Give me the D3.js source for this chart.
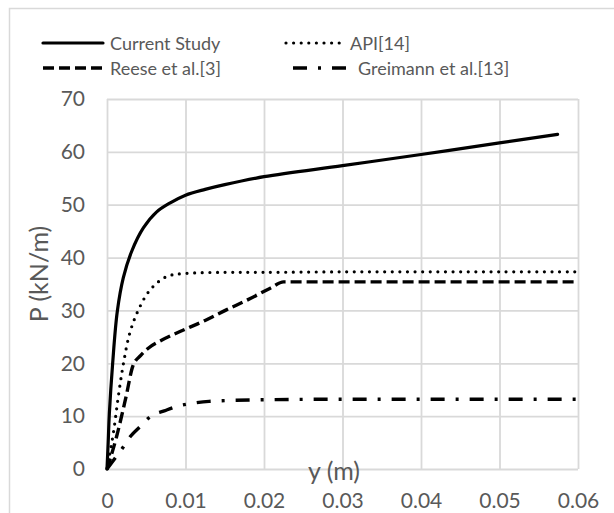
<!DOCTYPE html>
<html>
<head>
<meta charset="utf-8">
<script src="https://cdn.jsdelivr.net/npm/d3@7"></script>
<style>
  html, body { margin: 0; padding: 0; background: #fff; }
  svg { display: block; }
  text { font-family: Lato, "Open Sans", sans-serif; fill: #595959; }
</style>
</head>
<body>
<svg id="chart" width="614" height="513"></svg>
<script>
// Lateral soil reaction P (kN/m) against pile deflection y (m)
const xTicks = [0, 0.01, 0.02, 0.03, 0.04, 0.05, 0.06];
const xTickLabels = ["0", "0.01", "0.02", "0.03", "0.04", "0.05", "0.06"];
const yTicks = [0, 10, 20, 30, 40, 50, 60, 70];
const yTickLabels = ["0", "10", "20", "30", "40", "50", "60", "70"];

const seriesNames = ["Current Study", "API[14]", "Reese et al.[3]", "Greimann et al.[13]"];

const currentY = [0, 0.00015, 0.0003, 0.00072, 0.00131, 0.00208, 0.00315, 0.00463, 0.0063, 0.008, 0.01, 0.0125, 0.015, 0.02, 0.03, 0.04, 0.05, 0.0574];
const currentP = [0, 5, 10.5, 20, 29.8, 36.2, 41.2, 45.6, 48.6, 50.3, 51.8, 52.9, 53.8, 55.3, 57.4, 59.5, 61.7, 63.3];

const apiY = [0, 0.0008, 0.00144, 0.0021, 0.0029, 0.004, 0.0055, 0.0076, 0.0101, 0.015, 0.02, 0.03, 0.04, 0.05, 0.06];
const apiP = [0, 6.7, 13.7, 20.0, 25.7, 30.1, 33.9, 36.4, 37.0, 37.2, 37.2, 37.3, 37.3, 37.3, 37.3];

const reeseY = [0, 0.0012, 0.0024, 0.0033, 0.0043, 0.0053, 0.007, 0.0093, 0.0125, 0.0152, 0.0179, 0.0208, 0.0225, 0.03, 0.04, 0.05, 0.06];
const reeseP = [0, 6, 13.5, 19.5, 21.5, 22.9, 24.4, 26.0, 28.1, 30.1, 32.0, 34.2, 35.4, 35.4, 35.4, 35.4, 35.4];

const greimannY = [0, 0.001, 0.002, 0.003, 0.0042, 0.0056, 0.0073, 0.009, 0.0107, 0.013, 0.02, 0.03, 0.04, 0.05, 0.06];
const greimannP = [0, 2, 4, 6.2, 8.0, 10.0, 11.0, 11.9, 12.4, 12.8, 13.1, 13.2, 13.2, 13.2, 13.2];

const svg = d3.select("#chart");

// chart frame
svg.append("path")
  .attr("d", "M9.5,513 V8.5 H614")
  .attr("fill", "none")
  .attr("stroke", "#d9d9d9")
  .attr("stroke-width", 1.5);

const x = d3.scaleLinear().domain([0, 0.06]).range([107, 578]);
const y = d3.scaleLinear().domain([0, 70]).range([469, 99]);

// gridlines
const gridX = svg.append("g").attr("transform", `translate(0,${y(0)})`)
  .call(d3.axisBottom(x).tickValues(xTicks).tickSize(-(y(0) - y(70))).tickFormat(""));
const gridY = svg.append("g").attr("transform", `translate(${x(0)},0)`)
  .call(d3.axisLeft(y).tickValues(yTicks).tickSize(-(x(0.06) - x(0))).tickFormat(""));
[gridX, gridY].forEach(g => {
  g.select(".domain").remove();
  g.selectAll("line").attr("stroke", "#d9d9d9").attr("stroke-width", 1.8);
});

// tick labels
const axX = svg.append("g").attr("transform", `translate(0,${y(0)})`)
  .call(d3.axisBottom(x).tickValues(xTicks).tickSize(0).tickPadding(0)
    .tickFormat((d, i) => xTickLabels[i]));
axX.select(".domain").remove();
axX.selectAll("text").attr("dy", null).attr("y", 39)
  .style("font-size", "21px").attr("fill", "#595959");

const axY = svg.append("g").attr("transform", `translate(${x(0)},0)`)
  .call(d3.axisLeft(y).tickValues(yTicks).tickSize(0).tickPadding(22)
    .tickFormat((d, i) => yTickLabels[i]));
axY.select(".domain").remove();
axY.selectAll("text").style("font-size", "21px").attr("fill", "#595959");

// axis titles
svg.append("text")
  .attr("x", 334).attr("y", 480)
  .attr("text-anchor", "middle")
  .style("font-size", "25px")
  .text("y (m)");
svg.append("text")
  .attr("transform", "translate(48,274) rotate(-90)")
  .attr("text-anchor", "middle")
  .style("font-size", "25px")
  .text("P (kN/m)");

// series: smooth curves for the two continuous models, monotone for the piecewise ones
const styles = [
  { w: 3.2, dash: null, cap: "round", curve: d3.curveCatmullRom.alpha(0.5) },
  { w: 3.2, dash: "0,7.6", cap: "round", curve: d3.curveCatmullRom.alpha(0.5) },
  { w: 3.4, dash: "11,5", cap: "butt", curve: d3.curveMonotoneX },
  { w: 3.4, dash: "14,11,3,11", cap: "butt", curve: d3.curveMonotoneX }
];
const seriesData = [
  d3.zip(currentY, currentP),
  d3.zip(apiY, apiP),
  d3.zip(reeseY, reeseP),
  d3.zip(greimannY, greimannP)
];

seriesData.forEach((data, i) => {
  const line = d3.line()
    .x(d => x(d[0]))
    .y(d => y(d[1]))
    .curve(styles[i].curve);
  svg.append("path")
    .datum(data)
    .attr("d", line)
    .attr("fill", "none")
    .attr("stroke", "#000")
    .attr("stroke-width", styles[i].w)
    .attr("stroke-linecap", styles[i].cap)
    .attr("stroke-linejoin", "round")
    .attr("stroke-dasharray", styles[i].dash);
});

// legend
const legendItems = [
  { x1: 43, x2: 103, ly: 43, tx: 110, ty: 50 },
  { x1: 286, x2: 341, ly: 43, tx: 350, ty: 50 },
  { x1: 43, x2: 103, ly: 68, tx: 110, ty: 75 },
  { x1: 293, x2: 347, ly: 68, tx: 358, ty: 75 }
];
legendItems.forEach((it, i) => {
  svg.append("line")
    .attr("x1", it.x1).attr("x2", it.x2)
    .attr("y1", it.ly).attr("y2", it.ly)
    .attr("stroke", "#000")
    .attr("stroke-width", styles[i].w)
    .attr("stroke-linecap", styles[i].cap)
    .attr("stroke-dasharray", styles[i].dash);
  svg.append("text")
    .attr("x", it.tx).attr("y", it.ty)
    .style("font-size", "18px")
    .text(seriesNames[i]);
});
</script>
</body>
</html>
